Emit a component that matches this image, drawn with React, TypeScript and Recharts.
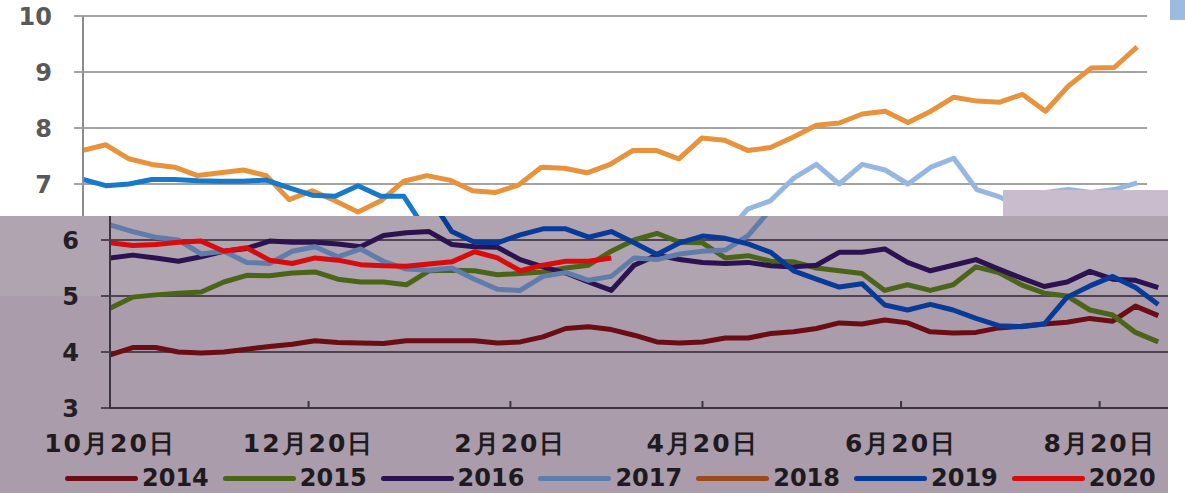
import React from "react";
import { LineChart, Line, XAxis, YAxis, CartesianGrid } from "recharts";

// days counted from 10月20日, one point per week
const tickDays = [0, 61, 123, 182, 243, 304];
const tickLabels = ["10月20日", "12月20日", "2月20日", "4月20日", "6月20日", "8月20日"];
const yTicks = [3, 4, 5, 6, 7, 8, 9, 10];
const years = ["2014", "2015", "2016", "2017", "2018", "2019", "2020"];

const v2014 = [
  3.95, 4.08, 4.08, 4.0, 3.98, 4.0, 4.05, 4.1, 4.14, 4.2, 4.17, 4.16, 4.15, 4.2, 4.2, 4.2,
  4.2, 4.16, 4.18, 4.27, 4.42, 4.45, 4.4, 4.3, 4.18, 4.16, 4.18, 4.25, 4.25, 4.33, 4.36,
  4.42, 4.52, 4.5, 4.57, 4.52, 4.36, 4.34, 4.35, 4.43, 4.46, 4.5, 4.53, 4.6, 4.55, 4.82, 4.65,
];
const v2015 = [
  4.78, 4.98, 5.02, 5.05, 5.07, 5.25, 5.37, 5.36, 5.41, 5.43, 5.3, 5.25, 5.25, 5.2, 5.45, 5.46,
  5.45, 5.38, 5.4, 5.43, 5.5, 5.55, 5.8, 6.0, 6.12, 5.96, 5.95, 5.68, 5.72, 5.62, 5.61,
  5.5, 5.45, 5.4, 5.1, 5.2, 5.1, 5.2, 5.52, 5.42, 5.2, 5.05, 5.0, 4.75, 4.66, 4.35, 4.18,
];
const v2016 = [
  5.68, 5.73, 5.68, 5.62, 5.7, 5.8, 5.85, 5.98, 5.96, 5.96, 5.93, 5.88, 6.08, 6.13, 6.15, 5.92,
  5.88, 5.87, 5.65, 5.52, 5.41, 5.25, 5.1, 5.55, 5.73, 5.65, 5.6, 5.58, 5.6, 5.54, 5.52,
  5.55, 5.78, 5.78, 5.84, 5.6, 5.45, 5.55, 5.65, 5.48, 5.32, 5.17, 5.25, 5.44, 5.3, 5.28, 5.15,
];
const v2017 = [
  6.27, 6.15, 6.05, 6.0, 5.75, 5.8, 5.6, 5.58, 5.8, 5.88, 5.7, 5.84, 5.62, 5.48, 5.46, 5.5,
  5.3, 5.12, 5.1, 5.35, 5.42, 5.28, 5.35, 5.68, 5.65, 5.75, 5.8, 5.82, 6.08, 6.55, 6.7,
  7.1, 7.35, 7.0, 7.35, 7.25, 7.0, 7.3, 7.46, 6.9, 6.77, 6.55, 6.85, 6.9, 6.85, 6.9, 7.02,
];
const v2018 = [
  7.6, 7.7, 7.45, 7.35, 7.3, 7.15, 7.2, 7.25, 7.15, 6.72, 6.88, 6.7, 6.5, 6.7, 7.05, 7.15,
  7.07, 6.88, 6.85, 6.98, 7.3, 7.28, 7.2, 7.35, 7.6, 7.6, 7.45, 7.82, 7.78, 7.6, 7.65,
  7.84, 8.05, 8.09, 8.25, 8.3, 8.1, 8.3, 8.55, 8.48, 8.46, 8.6, 8.3, 8.75, 9.07, 9.08, 9.45,
];
const v2019 = [
  7.08, 6.97, 7.0, 7.08, 7.08, 7.06, 7.05, 7.05, 7.07, 6.93, 6.8, 6.78, 6.97, 6.78, 6.78, 6.15,
  5.96, 5.95, 6.09, 6.2, 6.2, 6.05, 6.15, 5.95, 5.74, 5.95, 6.07, 6.03, 5.93, 5.78, 5.45,
  5.3, 5.16, 5.22, 4.84, 4.75, 4.85, 4.75, 4.6, 4.47, 4.45, 4.5, 4.98, 5.18, 5.35, 5.15, 4.85,
];
const v2020 = [
  5.95, 5.9, 5.92, 5.96, 5.98, 5.8, 5.86, 5.64, 5.58, 5.68, 5.64, 5.56, 5.54, 5.53, 5.57, 5.61,
  5.79, 5.68, 5.45, 5.55, 5.62, 5.62, 5.68,
];

const seriesValues: Record<string, number[]> = {
  "2014": v2014,
  "2015": v2015,
  "2016": v2016,
  "2017": v2017,
  "2018": v2018,
  "2019": v2019,
  "2020": v2020,
};

const data = v2014.map((_, k) => {
  const row: Record<string, number | null> = { day: k * 7 };
  years.forEach((y) => {
    const v = seriesValues[y][k];
    row[y] = v === undefined ? null : v;
  });
  return row;
});

const upperColors: Record<string, string> = {
  "2014": "#8b1a1a",
  "2015": "#6b8a2a",
  "2016": "#4b2a7a",
  "2017": "#95b7e2",
  "2018": "#e8923c",
  "2019": "#1679c9",
  "2020": "#e8141c",
};

const lowerColors: Record<string, string> = {
  "2014": "#6a0d14",
  "2015": "#4a6418",
  "2016": "#2c1250",
  "2017": "#5f7cab",
  "2018": "#9a4a1c",
  "2019": "#083a98",
  "2020": "#d80c0c",
};

const FONT = "'DejaVu Sans', sans-serif";

const DateTick = (props: any) => {
  const { x, y, payload } = props;
  const idx = tickDays.indexOf(payload.value);
  return (
    <g>
      <line x1={x} x2={x} y1={y - 7} y2={y} stroke="#3c3342" strokeWidth={2} />
      <text
        x={x}
        y={y + 44}
        textAnchor="middle"
        fill="#1e1a20"
        fontSize={25}
        fontWeight="bold"
        letterSpacing={2}
        fontFamily={FONT}
      >
        {tickLabels[idx]}
      </text>
    </g>
  );
};

interface PanelProps {
  width: number;
  left: number;
  right: number;
  colors: Record<string, string>;
  grid: string;
  axis: string;
  label: string;
  lower?: boolean;
}

function Panel({ width, left, right, colors, grid, axis, label, lower }: PanelProps) {
  // each half of the picture only shows part of the value range
  const shownTicks = yTicks.filter((t) => (lower ? t <= 6 : t >= 7));
  return (
    <LineChart
      width={width}
      height={493}
      data={data}
      margin={{ top: 16, right, left: left - 60, bottom: lower ? 40 : 85 }}
    >
      <CartesianGrid horizontal vertical={false} stroke={grid} strokeWidth={2} />
      <XAxis
        dataKey="day"
        type="number"
        domain={[0, 325]}
        ticks={tickDays}
        interval={0}
        hide={!lower}
        height={45}
        axisLine={{ stroke: axis, strokeWidth: 2 }}
        tickLine={false}
        tickSize={0}
        tickMargin={0}
        tick={<DateTick />}
        allowDataOverflow
      />
      <YAxis
        width={60}
        domain={[3, 10]}
        ticks={shownTicks}
        interval={0}
        axisLine={{ stroke: axis, strokeWidth: 2 }}
        tickLine={{ stroke: grid, strokeWidth: 2 }}
        tickSize={9}
        tickMargin={22}
        tick={{ fill: label, fontSize: 24, fontWeight: "bold", fontFamily: FONT }}
        allowDataOverflow
      />
      {years.map((y) => (
        <Line
          key={y}
          dataKey={y}
          stroke={colors[y]}
          strokeWidth={5}
          dot={false}
          type="linear"
          isAnimationActive={false}
          strokeLinejoin="round"
        />
      ))}
    </LineChart>
  );
}

export default function App() {
  return (
    <div
      style={{
        position: "absolute",
        left: 0,
        top: 0,
        width: 1185,
        height: 493,
        overflow: "hidden",
        background: "#ffffff",
        fontFamily: FONT,
      }}
    >
      {/* upper, untinted part of the picture */}
      <div style={{ position: "absolute", left: 0, top: 0, width: 1185, height: 216, overflow: "hidden" }}>
        <Panel
          width={1185}
          left={83}
          right={38}
          colors={upperColors}
          grid="#a3a3a3"
          axis="#8c8c8c"
          label="#595959"
        />
      </div>
      <div
        style={{
          position: "absolute",
          left: 1003,
          top: 190,
          width: 165,
          height: 26,
          background: "#c9bccd",
        }}
      />
      <div
        style={{
          position: "absolute",
          left: 1170,
          top: 0,
          width: 15,
          height: 20,
          background: "#9dbbe0",
        }}
      />
      {/* lower, tinted part */}
      <div
        style={{
          position: "absolute",
          left: 0,
          top: 216,
          width: 1168,
          height: 277,
          overflow: "hidden",
          background: "linear-gradient(#b0a4b1 0px, #b0a4b1 80px, #aa9cab 80px, #aa9cab 277px)",
        }}
      >
        <div style={{ position: "absolute", left: 0, top: -216 }}>
          <Panel
            width={1168}
            left={110}
            right={0}
            colors={lowerColors}
            grid="#4d4352"
            axis="#3c3342"
            label="#241e26"
            lower
          />
        </div>
        <div
          style={{
            position: "absolute",
            left: 65,
            top: 248,
            display: "flex",
            alignItems: "center",
            whiteSpace: "nowrap",
          }}
        >
          {years.map((y) => (
            <div key={y} style={{ display: "flex", alignItems: "center", marginRight: 14 }}>
              <div style={{ width: 73, height: 5, borderRadius: 3, background: lowerColors[y] }} />
              <span
                style={{
                  marginLeft: 4,
                  fontSize: 24,
                  fontWeight: "bold",
                  color: "#1e1a20",
                  lineHeight: "28px",
                }}
              >
                {y}
              </span>
            </div>
          ))}
        </div>
      </div>
    </div>
  );
}
